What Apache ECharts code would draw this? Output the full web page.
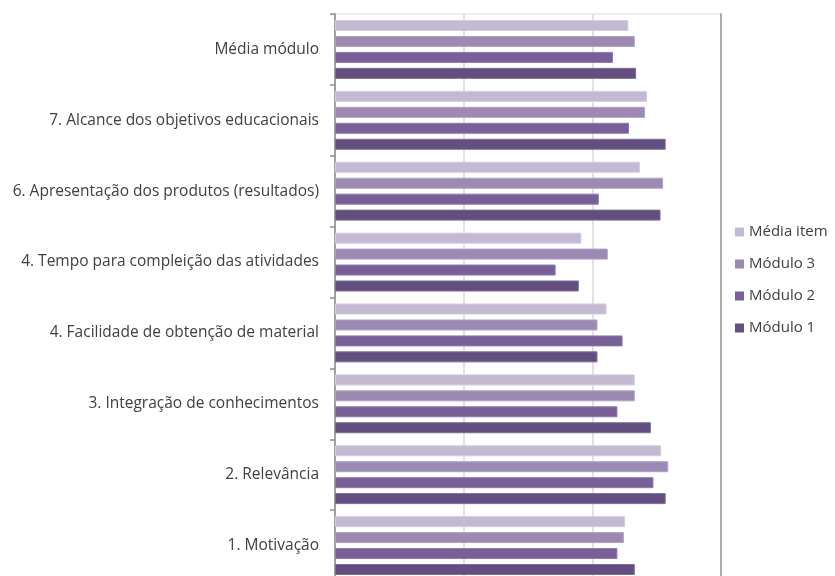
<!DOCTYPE html>
<html>
<head>
<meta charset="utf-8">
<script src="https://cdn.jsdelivr.net/npm/echarts@6/dist/echarts.min.js"></script>
<style>
  html, body { margin: 0; padding: 0; background: #ffffff; }
  #chart { width: 835px; height: 576px; }
</style>
</head>
<body>
<div id="chart"></div>
<script>
// Items of the evaluation, listed bottom to top
const categories = [
  '1. Motivação',
  '2. Relevância',
  '3. Integração de conhecimentos',
  '4. Facilidade de obtenção de material',
  '4. Tempo para compleição das atividades',
  '6. Apresentação dos produtos (resultados)',
  '7. Alcance dos objetivos educacionais',
  'Média módulo'
];

// Scores per module, same order as categories
const modulo1 = [4.66, 5.14, 4.91, 4.08, 3.79, 5.06, 5.14, 4.68];
const modulo2 = [4.39, 4.95, 4.39, 4.47, 3.43, 4.10, 4.57, 4.32];
const modulo3 = [4.49, 5.18, 4.66, 4.08, 4.24, 5.10, 4.82, 4.66];
const mediaItem = [4.51, 5.07, 4.66, 4.22, 3.83, 4.74, 4.85, 4.56];

const legendOrder = ['Média item', 'Módulo 3', 'Módulo 2', 'Módulo 1'];

const font = '"Open Sans", "Liberation Sans", sans-serif';
const textColor = '#404040';

function barSeries(name, data, color, edge) {
  return {
    name: name,
    type: 'bar',
    data: data,
    barWidth: 11,
    barGap: '45%',
    itemStyle: { color: color, borderColor: edge, borderWidth: 1 },
    emphasis: { disabled: true },
    animation: false
  };
}

const chart = echarts.init(document.getElementById('chart'), null, { renderer: 'canvas' });
chart.setOption({
  backgroundColor: '#ffffff',
  animation: false,
  grid: {
    left: 335,
    top: 14,
    width: 386,
    height: 567,
    outerBoundsMode: 'none',
    show: true,
    borderColor: '#d9d9d9',
    borderWidth: 1
  },
  legend: {
    data: legendOrder,
    orient: 'vertical',
    left: 735,
    top: 223,
    padding: 0,
    icon: 'rect',
    itemWidth: 9,
    itemHeight: 9,
    itemGap: 14,
    itemStyle: { borderWidth: 0 },
    textStyle: { fontFamily: font, fontSize: 15, color: textColor, lineHeight: 18 },
    selectedMode: false
  },
  xAxis: {
    type: 'value',
    min: 0,
    max: 6,
    interval: 2,
    axisLabel: { show: false },
    axisLine: { show: false },
    axisTick: { show: false },
    splitLine: { show: true, lineStyle: { color: '#d9d9d9', width: 1.5 } }
  },
  yAxis: [
    {
      type: 'category',
      data: categories,
      axisLine: { show: true, lineStyle: { color: '#8c8c8c', width: 1.5 } },
      axisTick: { show: true, length: 5, lineStyle: { color: '#8c8c8c', width: 1.5 } },
      axisLabel: { fontFamily: font, fontSize: 15.5, color: textColor, margin: 16, padding: [3, 0, 0, 0] },
      splitLine: { show: false }
    },
    {
      type: 'category',
      data: categories,
      position: 'right',
      axisLine: { show: true, lineStyle: { color: '#ababab', width: 2 } },
      axisTick: { show: false },
      axisLabel: { show: false },
      splitLine: { show: false }
    }
  ],
  // first series sits at the top of each group
  series: [
    barSeries('Média item', mediaItem, '#c3b9d3', '#d3cbdf'),
    barSeries('Módulo 3', modulo3, '#9c89b4', '#b0a1c4'),
    barSeries('Módulo 2', modulo2, '#785f98', '#907ba9'),
    barSeries('Módulo 1', modulo1, '#634f7f', '#7d6c95')
  ]
});
</script>
</body>
</html>
